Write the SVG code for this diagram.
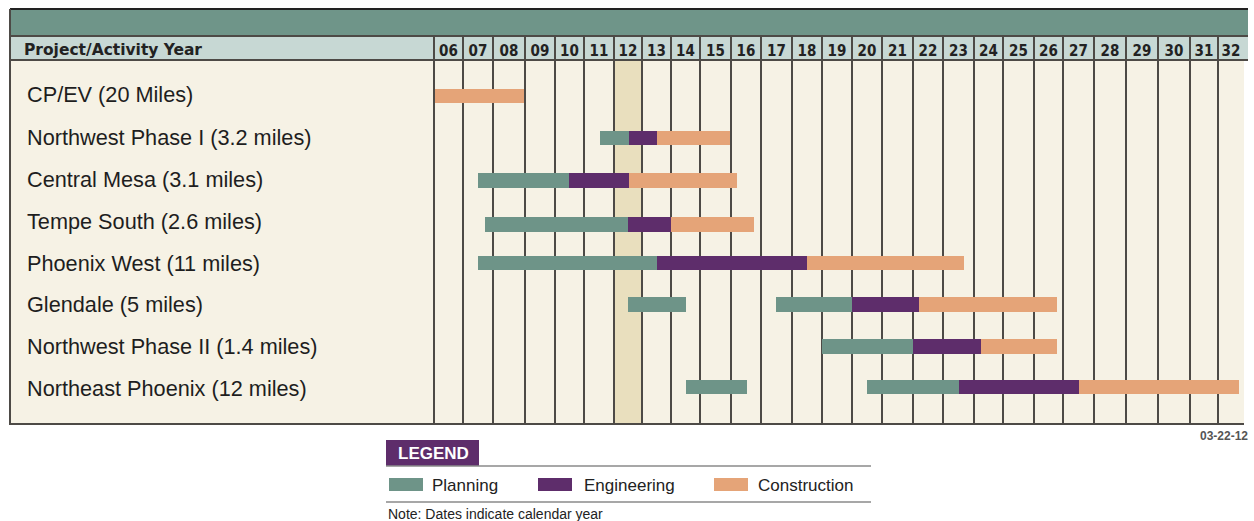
<svg xmlns="http://www.w3.org/2000/svg" width="1254" height="521" viewBox="0 0 1254 521">
<style>
.lbl{font-family:"Liberation Sans",Arial,sans-serif;font-size:21.7px;fill:#1e1e1e}
.yr{font-family:"DejaVu Sans Condensed","DejaVu Sans",sans-serif;font-weight:bold;font-size:15px;fill:#222;text-anchor:middle}
.hdr{font-family:"DejaVu Sans Condensed","DejaVu Sans",sans-serif;font-weight:bold;font-size:15px;fill:#222}
.grid line{stroke:#4d4a46;stroke-width:2}
.p{fill:#6e9488}
.e{fill:#5e2d6b}
.c{fill:#e5a478}
.leg{font-family:"Liberation Sans",Arial,sans-serif;font-size:17px;fill:#222}
</style>
<rect width="1254" height="521" fill="#ffffff"/>
<g id="frame">
<rect x="10" y="9" width="1238" height="27" fill="#6f9589"/>
<line x1="10" y1="9" x2="1248" y2="9" stroke="#222" stroke-width="2"/>
<rect x="10" y="36" width="1238" height="24" fill="#c7d8d4"/>
<rect x="10" y="60" width="1234" height="364" fill="#f6f2e5"/>
<rect x="614" y="60" width="28" height="364" fill="#e9dfbe"/>
<line x1="10" y1="36" x2="1248" y2="36" stroke="#4d4a46" stroke-width="2"/>
<line x1="10" y1="60" x2="1248" y2="60" stroke="#4d4a46" stroke-width="2"/>
<line x1="10" y1="424" x2="1244" y2="424" stroke="#4d4a46" stroke-width="2"/>
<line x1="10" y1="9" x2="10" y2="425" stroke="#4d4a46" stroke-width="2"/>
<text class="hdr" x="24" y="55" textLength="178" lengthAdjust="spacingAndGlyphs">Project/Activity Year</text>
</g>
<g id="grid" class="grid">
<line x1="434" y1="36" x2="434" y2="424"/><line x1="463" y1="36" x2="463" y2="424"/><line x1="493" y1="36" x2="493" y2="424"/><line x1="525" y1="36" x2="525" y2="424"/><line x1="555" y1="36" x2="555" y2="424"/><line x1="584" y1="36" x2="584" y2="424"/><line x1="614" y1="36" x2="614" y2="424"/><line x1="642" y1="36" x2="642" y2="424"/><line x1="671" y1="36" x2="671" y2="424"/><line x1="700" y1="36" x2="700" y2="424"/><line x1="731" y1="36" x2="731" y2="424"/><line x1="761" y1="36" x2="761" y2="424"/><line x1="792" y1="36" x2="792" y2="424"/><line x1="822" y1="36" x2="822" y2="424"/><line x1="852" y1="36" x2="852" y2="424"/><line x1="882" y1="36" x2="882" y2="424"/><line x1="913" y1="36" x2="913" y2="424"/><line x1="943" y1="36" x2="943" y2="424"/><line x1="974" y1="36" x2="974" y2="424"/><line x1="1003" y1="36" x2="1003" y2="424"/><line x1="1034" y1="36" x2="1034" y2="424"/><line x1="1063" y1="36" x2="1063" y2="424"/><line x1="1094" y1="36" x2="1094" y2="424"/><line x1="1126" y1="36" x2="1126" y2="424"/><line x1="1158" y1="36" x2="1158" y2="424"/><line x1="1190" y1="36" x2="1190" y2="424"/><line x1="1218" y1="36" x2="1218" y2="424"/>
</g>
<g id="years">
<text class="yr" x="448.5" y="56">06</text><text class="yr" x="478" y="56">07</text><text class="yr" x="509" y="56">08</text><text class="yr" x="540" y="56">09</text><text class="yr" x="569.5" y="56">10</text><text class="yr" x="599" y="56">11</text><text class="yr" x="628" y="56">12</text><text class="yr" x="656.5" y="56">13</text><text class="yr" x="685.5" y="56">14</text><text class="yr" x="715.5" y="56">15</text><text class="yr" x="746" y="56">16</text><text class="yr" x="776.5" y="56">17</text><text class="yr" x="807" y="56">18</text><text class="yr" x="837" y="56">19</text><text class="yr" x="867" y="56">20</text><text class="yr" x="897.5" y="56">21</text><text class="yr" x="928" y="56">22</text><text class="yr" x="958.5" y="56">23</text><text class="yr" x="988.5" y="56">24</text><text class="yr" x="1018.5" y="56">25</text><text class="yr" x="1048.5" y="56">26</text><text class="yr" x="1078.5" y="56">27</text><text class="yr" x="1110" y="56">28</text><text class="yr" x="1142" y="56">29</text><text class="yr" x="1174" y="56">30</text><text class="yr" x="1204" y="56">31</text><text class="yr" x="1231" y="56">32</text>
</g>
<g id="row-cpev">
<text class="lbl" x="27" y="102">CP/EV (20 Miles)</text>
<rect class="c" x="435" y="89" width="89" height="14"/>
</g>
<g id="row-nw1">
<text class="lbl" x="27" y="145">Northwest Phase I (3.2 miles)</text>
<rect class="p" x="600" y="131" width="29" height="14"/>
<rect class="e" x="629" y="131" width="28" height="14"/>
<rect class="c" x="657" y="131" width="73" height="14"/>
</g>
<g id="row-cm">
<text class="lbl" x="27" y="187">Central Mesa (3.1 miles)</text>
<rect class="p" x="478" y="173" width="91" height="15"/>
<rect class="e" x="569" y="173" width="60" height="15"/>
<rect class="c" x="629" y="173" width="108" height="15"/>
</g>
<g id="row-ts">
<text class="lbl" x="27" y="229">Tempe South (2.6 miles)</text>
<rect class="p" x="485" y="217" width="143" height="15"/>
<rect class="e" x="628" y="217" width="43" height="15"/>
<rect class="c" x="671" y="217" width="83" height="15"/>
</g>
<g id="row-pw">
<text class="lbl" x="27" y="271">Phoenix West (11 miles)</text>
<rect class="p" x="478" y="256" width="179" height="14"/>
<rect class="e" x="657" y="256" width="150" height="14"/>
<rect class="c" x="807" y="256" width="157" height="14"/>
</g>
<g id="row-gl">
<text class="lbl" x="27" y="312">Glendale (5 miles)</text>
<rect class="p" x="628" y="297" width="58" height="15"/>
<rect class="p" x="776" y="297" width="76" height="15"/>
<rect class="e" x="852" y="297" width="67" height="15"/>
<rect class="c" x="919" y="297" width="138" height="15"/>
</g>
<g id="row-nw2">
<text class="lbl" x="27" y="354">Northwest Phase II (1.4 miles)</text>
<rect class="p" x="822" y="339" width="91" height="15"/>
<rect class="e" x="913" y="339" width="68" height="15"/>
<rect class="c" x="981" y="339" width="76" height="15"/>
</g>
<g id="row-nep">
<text class="lbl" x="27" y="396">Northeast Phoenix (12 miles)</text>
<rect class="p" x="686" y="380" width="61" height="14"/>
<rect class="p" x="867" y="380" width="92" height="14"/>
<rect class="e" x="959" y="380" width="120" height="14"/>
<rect class="c" x="1079" y="380" width="160" height="14"/>
</g>
<g id="date">
<text x="1248" y="440" text-anchor="end" font-family="Liberation Sans,Arial,sans-serif" font-size="12" font-weight="bold" fill="#555">03-22-12</text>
</g>
<g id="legend">
<rect x="386" y="440" width="93" height="26" fill="#5e2d6b"/>
<text x="398" y="459" font-family="Liberation Sans,Arial,sans-serif" font-size="17" font-weight="bold" fill="#ffffff">LEGEND</text>
<line x1="386" y1="466" x2="871" y2="466" stroke="#8a8a8a" stroke-width="1.5"/>
<rect class="p" x="389" y="478" width="34" height="13"/>
<text class="leg" x="432" y="491">Planning</text>
<rect class="e" x="538" y="478" width="34" height="13"/>
<text class="leg" x="584" y="491">Engineering</text>
<rect class="c" x="714" y="478" width="34" height="13"/>
<text class="leg" x="758" y="491">Construction</text>
<line x1="386" y1="502" x2="871" y2="502" stroke="#8a8a8a" stroke-width="1.5"/>
<text x="388" y="519" font-family="Liberation Sans,Arial,sans-serif" font-size="14" fill="#222">Note: Dates indicate calendar year</text>
</g>
</svg>
